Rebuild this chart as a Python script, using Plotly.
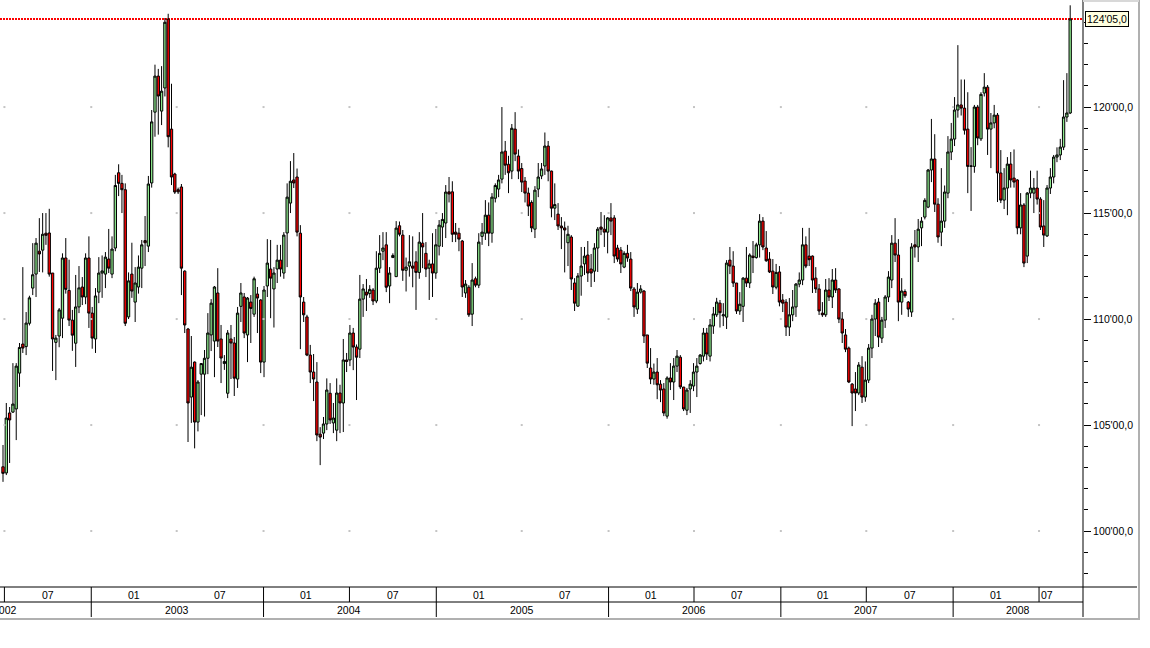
import pandas as pd
import plotly.graph_objects as go

# ---------------- data (weekly candles) ----------------
FIRST_WEEK = "2002-06-28"

OPEN = [
    103.03, 102.74, 105.57, 105.61, 105.76, 107.45, 108.82, 108.70, 109.80, 111.46,
    112.12, 113.20, 113.25, 114.05, 114.06, 112.17, 108.90, 109.20, 110.04, 112.88,
    111.35, 109.95, 108.86, 110.57, 111.51, 111.04, 112.88, 110.28, 109.06, 111.27,
    112.17, 112.12, 112.83, 112.12, 113.35, 116.90, 116.40, 116.10, 110.10, 112.12,
    110.80, 111.51, 112.40, 113.70, 113.44, 116.42, 119.76, 121.46, 119.81, 120.90,
    124.15, 118.96, 116.84, 116.10, 116.23, 112.26, 109.53, 106.32, 107.97, 105.14,
    107.40, 107.40, 108.15, 109.25, 108.96, 111.23, 109.06, 107.90, 106.50, 109.06,
    108.87, 107.17, 110.60, 111.04, 109.25, 110.80, 110.23, 111.18, 110.90, 107.97,
    111.56, 112.36, 111.42, 112.36, 112.78, 112.17, 114.06, 115.47, 116.56, 116.70,
    114.05, 110.80, 110.10, 108.30, 107.50, 107.03, 104.57, 104.62, 105.05, 106.50,
    105.10, 104.76, 106.51, 106.04, 108.07, 108.07, 109.34, 108.68, 108.58, 110.94,
    111.27, 111.20, 111.37, 110.85, 112.40, 113.20, 113.50, 111.56, 112.90, 112.00,
    114.40, 113.96, 112.30, 112.50, 112.50, 112.70, 112.20, 113.58, 113.10, 112.40,
    112.60, 112.17, 113.44, 114.34, 114.53, 116.00, 116.00, 114.10, 114.05, 113.68,
    111.23, 111.50, 110.23, 111.90, 111.60, 113.90, 114.05, 114.90, 114.05, 115.70,
    116.13, 116.60, 117.92, 117.30, 116.98, 118.96, 117.69, 117.10, 116.51, 115.94,
    115.50, 114.24, 116.13, 116.75, 117.22, 118.16, 116.98, 115.23, 114.95, 114.39,
    114.30, 113.60, 113.87, 111.70, 110.61, 112.03, 112.60, 113.02, 112.36, 112.26,
    113.35, 114.34, 114.24, 114.10, 114.77, 114.77, 113.35, 113.25, 112.45, 113.10,
    112.83, 111.42, 110.47, 111.27, 111.32, 109.25, 107.69, 107.17, 107.50, 106.93,
    106.70, 105.42, 107.22, 107.03, 107.78, 108.20, 106.79, 105.70, 106.70, 106.84,
    107.50, 107.90, 108.25, 109.34, 108.25, 109.67, 110.20, 110.75, 110.15, 110.09,
    112.78, 112.50, 111.70, 110.38, 110.60, 111.93, 111.70, 112.97, 112.90, 113.50,
    114.62, 113.35, 112.83, 112.26, 111.50, 112.22, 110.90, 110.80, 109.62, 110.20,
    110.57, 111.65, 111.84, 113.50, 112.97, 112.97, 111.93, 111.42, 110.28, 110.20,
    111.37, 111.04, 111.84, 111.42, 110.00, 109.25, 108.63, 106.93, 106.70, 106.51,
    107.73, 106.32, 107.12, 108.63, 110.00, 110.80, 109.10, 109.95, 111.04, 111.84,
    113.58, 113.02, 110.80, 111.30, 110.80, 110.33, 113.50, 113.40, 114.30, 114.81,
    115.28, 117.03, 117.55, 115.42, 114.10, 114.62, 115.94, 117.88, 118.49, 119.86,
    120.10, 119.95, 118.96, 117.20, 117.20, 120.00, 118.50, 120.66, 120.94, 118.96,
    119.25, 119.62, 116.89, 115.61, 116.18, 117.31, 116.65, 116.56, 114.30, 115.38,
    112.97, 115.94, 115.94, 116.18, 115.66, 114.39, 113.92, 116.18, 116.70, 117.64,
    117.74, 118.11, 119.53, 119.72,
]

HIGH = [
    104.06, 106.04, 105.85, 107.92, 107.92, 108.87, 112.45, 110.33, 111.10, 113.58,
    113.82, 114.76, 115.00, 115.00, 115.20, 112.17, 109.25, 110.52, 113.10, 113.82,
    112.80, 110.43, 112.08, 112.50, 111.98, 113.10, 113.90, 110.57, 111.46, 112.92,
    113.00, 113.16, 114.25, 113.90, 116.80, 117.30, 116.80, 116.40, 112.20, 113.60,
    112.45, 113.00, 113.73, 114.86, 116.75, 119.86, 122.00, 121.80, 121.93, 124.20,
    124.40, 121.10, 116.90, 116.20, 116.37, 112.30, 109.58, 109.20, 108.00, 107.12,
    107.92, 108.54, 110.28, 110.94, 111.56, 112.40, 109.72, 108.30, 109.48, 109.72,
    109.15, 110.57, 111.70, 111.23, 111.04, 111.13, 112.00, 111.51, 110.94, 111.56,
    113.77, 113.73, 112.45, 113.50, 113.50, 114.10, 116.40, 117.45, 117.83, 117.10,
    114.43, 111.04, 110.20, 108.78, 108.35, 107.97, 104.90, 105.38, 107.20, 106.98,
    106.04, 107.20, 106.90, 109.06, 108.40, 109.72, 109.58, 108.80, 112.08, 111.65,
    111.89, 111.60, 111.46, 113.20, 113.96, 114.10, 114.10, 112.45, 113.10, 114.62,
    114.60, 114.20, 112.90, 113.96, 113.90, 113.20, 114.10, 115.00, 113.63, 112.80,
    114.05, 114.25, 114.67, 115.00, 116.32, 116.70, 116.50, 114.53, 114.30, 113.73,
    111.84, 111.60, 112.64, 112.00, 114.05, 114.53, 115.61, 115.50, 115.94, 116.40,
    116.80, 120.00, 118.40, 117.70, 119.20, 119.76, 118.00, 117.36, 116.70, 116.20,
    115.60, 116.27, 117.36, 117.36, 118.80, 118.40, 117.00, 116.40, 115.47, 114.81,
    114.60, 114.40, 113.96, 111.93, 112.17, 113.40, 113.40, 113.68, 113.07, 113.58,
    114.34, 115.05, 114.90, 114.81, 115.47, 114.90, 113.50, 113.40, 113.20, 113.50,
    113.16, 111.51, 111.70, 111.60, 111.37, 109.25, 108.63, 107.90, 108.16, 107.12,
    106.98, 107.30, 107.92, 108.16, 108.54, 108.30, 106.80, 106.75, 107.12, 107.92,
    108.16, 108.35, 109.58, 109.58, 110.00, 110.57, 111.00, 110.90, 110.75, 112.78,
    113.40, 113.20, 111.70, 111.27, 111.98, 113.40, 113.10, 113.68, 113.60, 114.95,
    114.81, 114.15, 113.16, 112.83, 112.60, 112.50, 111.18, 110.94, 110.99, 111.37,
    111.70, 112.20, 114.30, 113.90, 114.30, 113.00, 112.45, 111.65, 110.80, 111.89,
    111.93, 112.36, 112.40, 111.46, 110.33, 109.53, 108.70, 106.98, 107.50, 107.97,
    108.25, 108.00, 108.82, 110.20, 110.94, 110.99, 110.10, 111.13, 112.26, 113.96,
    114.76, 113.77, 111.93, 111.40, 110.85, 113.58, 114.20, 114.72, 114.81, 115.70,
    117.08, 119.44, 118.72, 115.70, 117.12, 116.30, 118.63, 119.25, 120.47, 122.92,
    121.30, 121.30, 120.70, 118.11, 120.10, 120.10, 120.70, 121.60, 121.04, 119.72,
    120.10, 119.72, 117.97, 117.12, 117.64, 117.88, 118.00, 116.60, 115.94, 115.47,
    115.99, 117.00, 116.65, 117.00, 115.75, 115.61, 116.32, 117.12, 117.74, 118.10,
    118.50, 121.27, 121.60, 124.80,
]

LOW = [
    102.32, 102.64, 103.21, 105.57, 104.29, 106.80, 108.40, 108.30, 109.70, 111.13,
    111.04, 112.22, 112.20, 113.50, 112.00, 107.55, 107.12, 108.67, 109.10, 111.20,
    109.67, 108.50, 107.74, 110.28, 110.66, 110.70, 109.58, 108.60, 108.40, 110.75,
    111.00, 111.46, 112.17, 111.93, 113.20, 115.80, 115.00, 109.67, 110.00, 111.00,
    109.86, 111.20, 111.46, 112.50, 113.16, 116.20, 118.60, 118.70, 119.15, 120.50,
    118.10, 116.32, 115.90, 115.90, 111.13, 109.34, 104.20, 105.10, 103.90, 104.70,
    105.47, 105.40, 107.40, 108.49, 107.26, 108.68, 106.98, 107.60, 106.27, 107.17,
    106.37, 106.75, 109.86, 109.10, 107.97, 108.87, 110.10, 109.34, 107.45, 107.26,
    111.04, 110.04, 109.60, 111.70, 112.00, 111.90, 112.45, 115.00, 116.18, 113.90,
    108.58, 109.86, 108.25, 106.98, 106.13, 104.24, 103.11, 104.34, 104.76, 105.05,
    104.62, 104.24, 104.62, 104.67, 107.50, 107.78, 107.59, 106.18, 108.16, 110.10,
    110.38, 111.00, 110.66, 110.75, 112.17, 112.78, 111.27, 110.75, 112.90, 112.00,
    113.90, 111.80, 111.30, 112.00, 111.50, 110.43, 111.90, 112.40, 111.98, 110.90,
    111.04, 111.90, 113.00, 113.40, 113.82, 115.50, 113.63, 113.63, 113.20, 111.04,
    111.00, 110.10, 109.67, 111.50, 111.46, 113.50, 113.73, 113.44, 113.60, 115.50,
    115.75, 116.40, 116.80, 115.94, 116.60, 117.45, 116.60, 115.99, 115.50, 114.86,
    114.10, 113.82, 115.75, 116.60, 116.80, 116.50, 114.80, 114.67, 114.20, 113.30,
    112.20, 112.50, 111.37, 110.38, 110.57, 111.10, 112.08, 111.75, 111.51, 111.75,
    112.22, 113.96, 113.40, 113.10, 113.96, 112.64, 112.70, 112.17, 112.40, 112.70,
    111.32, 110.10, 110.24, 111.20, 108.87, 107.69, 106.93, 106.90, 106.22, 106.08,
    105.42, 105.30, 106.65, 106.18, 107.50, 106.70, 105.66, 105.47, 105.57, 106.60,
    106.32, 107.85, 108.00, 108.07, 108.00, 109.30, 110.10, 109.60, 109.67, 109.53,
    112.12, 111.51, 110.24, 110.20, 109.86, 111.51, 111.46, 112.17, 112.85, 112.90,
    113.25, 112.70, 112.17, 111.18, 111.40, 110.60, 110.33, 109.20, 109.20, 109.90,
    110.10, 111.50, 111.60, 112.40, 112.50, 111.23, 111.23, 110.19, 110.10, 110.10,
    110.85, 110.52, 111.23, 109.81, 108.87, 108.44, 106.98, 104.95, 105.66, 106.41,
    106.04, 106.10, 106.98, 108.16, 109.20, 108.68, 108.87, 109.58, 110.80, 111.46,
    112.69, 109.90, 110.20, 111.00, 110.10, 110.10, 112.90, 112.69, 113.44, 114.70,
    115.23, 116.46, 115.05, 113.60, 113.44, 114.30, 115.70, 117.50, 118.16, 119.50,
    119.60, 118.70, 115.94, 115.10, 116.90, 118.20, 118.40, 120.50, 117.74, 117.12,
    119.00, 115.52, 115.47, 115.19, 114.90, 116.20, 116.20, 114.00, 114.00, 112.45,
    112.64, 115.70, 115.00, 115.40, 114.20, 113.40, 113.87, 115.90, 116.40, 117.40,
    117.50, 117.97, 119.30, 119.67,
]

CLOSE = [
    102.72, 105.33, 105.24, 105.99, 107.78, 108.66, 108.63, 109.81, 111.00, 112.09,
    113.58, 113.07, 114.00, 113.95, 112.12, 109.06, 109.10, 110.43, 112.88, 111.40,
    109.95, 109.24, 110.57, 111.47, 111.04, 112.88, 110.28, 109.10, 111.09, 112.17,
    112.27, 112.92, 112.40, 113.30, 116.30, 116.40, 116.10, 109.80, 111.80, 111.32,
    111.70, 112.45, 113.50, 113.60, 116.37, 119.30, 121.46, 120.52, 120.75, 124.00,
    118.60, 116.70, 115.99, 116.00, 112.40, 109.72, 106.04, 107.73, 105.14, 107.03,
    107.90, 108.15, 109.34, 110.75, 111.51, 108.96, 108.16, 108.00, 109.34, 108.87,
    107.21, 110.28, 111.23, 109.34, 110.99, 110.50, 111.90, 110.99, 107.97, 111.37,
    112.64, 111.93, 112.17, 112.78, 112.36, 113.96, 115.75, 116.50, 116.42, 114.10,
    111.04, 110.20, 108.30, 107.50, 107.17, 104.53, 104.43, 105.05, 106.65, 105.24,
    105.33, 106.51, 106.04, 108.07, 108.00, 109.34, 108.68, 108.20, 110.94, 111.42,
    111.13, 111.40, 110.85, 112.40, 113.10, 113.35, 111.50, 112.17, 113.00, 114.29,
    114.00, 112.30, 112.45, 112.70, 112.40, 112.20, 113.63, 113.40, 112.36, 112.60,
    112.17, 113.50, 114.43, 114.70, 115.99, 115.90, 114.00, 114.00, 113.77, 111.51,
    111.65, 110.20, 111.84, 111.60, 113.63, 114.10, 114.90, 114.05, 115.75, 116.30,
    116.56, 117.88, 117.26, 116.90, 119.00, 117.78, 116.98, 116.46, 115.94, 115.33,
    114.30, 116.08, 116.70, 117.08, 118.16, 116.98, 115.23, 115.40, 114.39, 114.30,
    114.20, 114.00, 111.89, 110.75, 112.03, 112.50, 112.97, 112.17, 112.17, 113.35,
    114.24, 114.24, 114.10, 114.77, 114.62, 112.97, 112.83, 112.60, 113.10, 112.88,
    111.46, 110.57, 111.27, 111.42, 109.20, 107.92, 107.17, 107.50, 106.90, 106.65,
    105.57, 107.22, 107.03, 107.78, 108.25, 106.80, 105.76, 106.65, 106.93, 107.50,
    107.78, 108.30, 109.34, 108.35, 109.72, 110.24, 110.80, 110.30, 110.20, 112.64,
    112.50, 111.70, 110.38, 110.70, 111.93, 111.70, 113.02, 112.90, 113.50, 114.62,
    113.40, 112.75, 112.22, 111.51, 112.20, 110.80, 110.75, 109.62, 110.20, 110.57,
    111.65, 111.84, 113.50, 112.50, 112.80, 111.84, 111.42, 110.38, 110.20, 111.37,
    111.04, 111.84, 111.37, 110.00, 109.34, 108.58, 107.03, 106.51, 106.51, 107.83,
    106.32, 107.12, 108.63, 110.00, 110.75, 109.15, 109.95, 111.04, 111.98, 113.58,
    113.02, 110.80, 111.32, 111.10, 110.47, 113.40, 113.40, 114.24, 114.62, 115.60,
    117.03, 117.55, 115.42, 113.87, 114.62, 115.99, 117.88, 118.49, 119.86, 120.10,
    119.95, 118.91, 117.20, 117.22, 120.00, 118.54, 120.60, 120.94, 118.96, 119.25,
    119.62, 116.89, 115.61, 116.18, 117.31, 116.56, 116.46, 114.30, 115.38, 112.64,
    115.94, 116.18, 116.18, 115.66, 114.34, 113.96, 116.18, 116.70, 117.64, 117.74,
    118.11, 119.53, 119.72, 124.15625,
]

Y_TICKS = [100, 105, 110, 115, 120]
Y_TICK_TEXT = ["100'00,0", "105'00,0", "110'00,0", "115'00,0", "120'00,0"]
LAST_PRICE = 124.15625
LAST_LABEL = "124'05,0"

YEAR_LABELS = ["2002", "2003", "2004", "2005", "2006", "2007", "2008"]
YEAR_LABEL_DATES = ["2002-07-02", "2003-07-01", "2004-07-01", "2005-07-01",
                    "2006-07-01", "2007-07-01", "2008-05-18"]
MONTH_LABELS = ["07", "01", "07", "01", "07", "01", "07", "01", "07", "01", "07", "01", "07"]
MONTH_LABEL_DATES = ["2002-10-01", "2003-04-01", "2003-10-01", "2004-04-01", "2004-10-01",
                     "2005-04-01", "2005-10-01", "2006-04-01", "2006-10-01", "2007-04-01",
                     "2007-10-01", "2008-04-01", "2008-07-17"]
MONTH_DIVIDERS = ["2002-07-01", "2003-01-01", "2004-01-01", "2004-07-01", "2005-01-01",
                  "2006-01-01", "2006-07-01", "2007-01-01", "2007-07-01", "2008-01-01",
                  "2008-07-01"]
YEAR_DIVIDERS = ["2003-01-01", "2004-01-01", "2005-01-01", "2006-01-01", "2007-01-01",
                 "2008-01-01"]
GRID_DATES = ["2002-07-01", "2003-01-01", "2003-07-01", "2004-01-01", "2004-07-01",
              "2005-01-01", "2005-07-01", "2006-01-01", "2006-07-01", "2007-01-01",
              "2007-07-01", "2008-01-01", "2008-07-01"]

lens = {len(OPEN), len(HIGH), len(LOW), len(CLOSE)}
if len(lens) != 1:
    raise ValueError(f"length mismatch: {len(OPEN)} {len(HIGH)} {len(LOW)} {len(CLOSE)}")

DATES = pd.date_range(FIRST_WEEK, periods=len(CLOSE), freq="7D")

# ---------------- layout geometry ----------------
W, H = 1150, 648
PLOT_W, PLOT_H = 1083, 587
PX_PER_DAY = 0.472
X0 = pd.Timestamp(FIRST_WEEK) - pd.Timedelta(days=3.0 / PX_PER_DAY)
X1 = X0 + pd.Timedelta(days=PLOT_W / PX_PER_DAY)
Y_MIN, Y_MAX = 97.36, 125.05

FONT = "Liberation Sans, Arial, sans-serif"
FS = 10.5
UP_FILL = "#8ce88c"
DOWN_FILL = "#ff0000"


def xfrac(d):
    d = pd.Timestamp(d)
    return (d - X0) / (X1 - X0)


def yfrac(py):
    # pixel row (from top of page) -> paper fraction of the plot area
    return (PLOT_H - py) / PLOT_H


fig = go.Figure()

# faint grid points
fig.add_trace(go.Scatter(
    x=[d for d in GRID_DATES for _ in Y_TICKS],
    y=[v for _ in GRID_DATES for v in Y_TICKS],
    mode="markers",
    marker=dict(symbol="square", size=2, color="#c4c4c4", line=dict(width=0)),
    hoverinfo="skip", showlegend=False,
))

fig.add_trace(go.Candlestick(
    x=DATES, open=OPEN, high=HIGH, low=LOW, close=CLOSE,
    increasing=dict(line=dict(color="black", width=1), fillcolor=UP_FILL),
    decreasing=dict(line=dict(color="black", width=1), fillcolor=DOWN_FILL),
    whiskerwidth=0, showlegend=False,
))

shapes = []
BLACK = dict(color="black", width=1)
GRAY = dict(color="#b0b0b0", width=2)

# last price dotted line
shapes.append(dict(type="line", xref="paper", yref="y", x0=0, x1=1,
                   y0=LAST_PRICE, y1=LAST_PRICE, layer="below",
                   line=dict(color="#ff0000", width=2, dash="2px,1px")))
# bottom band lines
shapes.append(dict(type="line", xref="paper", yref="paper", x0=0, x1=1137 / PLOT_W,
                   y0=yfrac(587), y1=yfrac(587), line=BLACK))
shapes.append(dict(type="line", xref="paper", yref="paper", x0=0, x1=1,
                   y0=yfrac(602), y1=yfrac(602), line=BLACK))
for d in MONTH_DIVIDERS:
    shapes.append(dict(type="line", xref="paper", yref="paper", x0=xfrac(d), x1=xfrac(d),
                       y0=yfrac(587), y1=yfrac(602), line=BLACK))
for d in YEAR_DIVIDERS:
    shapes.append(dict(type="line", xref="paper", yref="paper", x0=xfrac(d), x1=xfrac(d),
                       y0=yfrac(602), y1=yfrac(617), line=BLACK))
# price axis line (right)
shapes.append(dict(type="line", xref="paper", yref="paper", x0=1, x1=1,
                   y0=yfrac(0), y1=yfrac(617), line=BLACK))
# window frame (grey)
shapes.append(dict(type="line", xref="paper", yref="paper", x0=1139 / PLOT_W, x1=1139 / PLOT_W,
                   y0=yfrac(0), y1=yfrac(620), line=GRAY))
shapes.append(dict(type="line", xref="paper", yref="paper", x0=0, x1=1140 / PLOT_W,
                   y0=yfrac(619), y1=yfrac(619), line=GRAY))
shapes.append(dict(type="line", xref="paper", yref="paper", x0=1, x1=1139 / PLOT_W,
                   y0=yfrac(1), y1=yfrac(1), line=dict(color="#d8d8d8", width=2)))

annotations = []
for t, d in zip(MONTH_LABELS, MONTH_LABEL_DATES):
    annotations.append(dict(text=t, x=xfrac(d), y=yfrac(595), xref="paper", yref="paper",
                            xanchor="center", yanchor="middle", showarrow=False,
                            font=dict(family=FONT, size=FS, color="black")))
for t, d in zip(YEAR_LABELS, YEAR_LABEL_DATES):
    annotations.append(dict(text=t, x=xfrac(d), y=yfrac(610), xref="paper", yref="paper",
                            xanchor="center", yanchor="middle", showarrow=False,
                            font=dict(family=FONT, size=FS, color="black")))
annotations.append(dict(text=LAST_LABEL, x=1, y=LAST_PRICE, xref="paper", yref="y",
                        xanchor="left", yanchor="middle", xshift=2, showarrow=False,
                        bgcolor="#ffffe0", bordercolor="black", borderwidth=1, borderpad=1,
                        font=dict(family=FONT, size=FS, color="black")))

fig.update_layout(
    template="none",
    width=W, height=H, autosize=False,
    margin=dict(l=0, r=W - PLOT_W, t=0, b=H - PLOT_H, pad=0),
    paper_bgcolor="white", plot_bgcolor="white",
    showlegend=False,
    boxgap=0.3,
    boxgroupgap=0,
    hovermode=False,
    xaxis=dict(type="date", range=[X0.isoformat(), X1.isoformat()],
               showticklabels=False, ticks="", showgrid=False, zeroline=False,
               showline=False, rangeslider=dict(visible=False), automargin=False,
               fixedrange=True),
    yaxis=dict(side="right", range=[Y_MIN, Y_MAX], tickmode="array",
               tickvals=Y_TICKS, ticktext=Y_TICK_TEXT, ticks="outside", ticklen=7,
               tickwidth=1, tickcolor="black", showgrid=False, zeroline=False,
               showline=False, automargin=False, fixedrange=True,
               tickfont=dict(family=FONT, size=FS, color="black"),
               minor=dict(dtick=1, ticks="outside", ticklen=4, tickwidth=1,
                          tickcolor="black", showgrid=False)),
    shapes=shapes,
    annotations=annotations,
)

fig.write_html(
    "out.html",
    config={"displayModeBar": False, "staticPlot": True},
    post_script="document.body.style.margin='0px';document.body.style.padding='0px';",
)
